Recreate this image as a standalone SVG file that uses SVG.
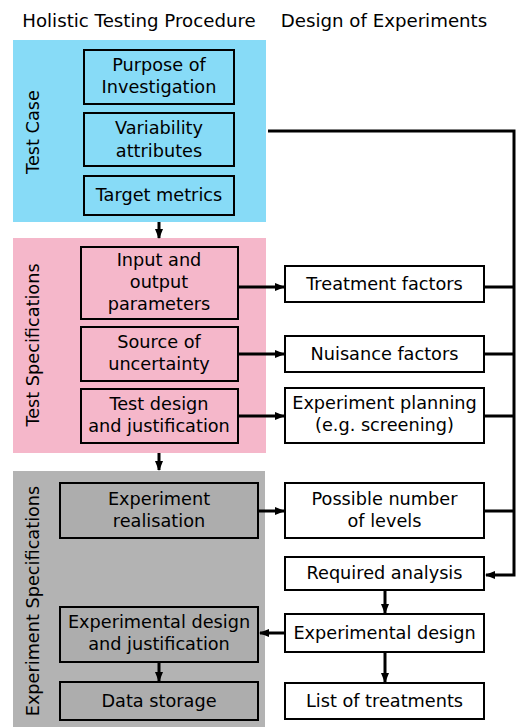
<svg xmlns="http://www.w3.org/2000/svg" width="516" height="727" viewBox="0 0 516 727">
<defs>
<style>
text{font-family:"DejaVu Sans",Verdana,sans-serif;font-size:17.7px;fill:#000;text-anchor:middle}
.box{stroke:#000;stroke-width:2}
.w{fill:#fff}
.b{fill:#87dbf7}
.p{fill:#f5b7ca}
.g{fill:#adadad}
.c{stroke:#000;stroke-width:3;fill:none}
</style>
<marker id="ah" viewBox="0 0 10 10" refX="9" refY="5" markerWidth="10" markerHeight="10" markerUnits="userSpaceOnUse" orient="auto">
<path d="M0,1 L10,5 L0,9 Z" fill="#000"/>
</marker>
</defs>
<rect width="516" height="727" fill="#fff"/>
<text x="139" y="27" style="font-size:18.2px">Holistic Testing Procedure</text>
<text x="384" y="27" style="font-size:18.2px">Design of Experiments</text>

<g id="testcase">
<rect x="13" y="40" width="253" height="182" fill="#87dbf7"/>
<text transform="translate(39,132) rotate(-90)">Test Case</text>
</g>
<g id="testspec">
<rect x="13" y="238" width="253" height="215" fill="#f5b7ca"/>
<text transform="translate(39,345) rotate(-90)">Test Specifications</text>
</g>
<g id="expspec">
<rect x="13" y="471" width="252" height="256" fill="#b3b3b3"/>
<text transform="translate(39,601) rotate(-90)">Experiment Specifications</text>
</g>

<g id="purpose"><rect class="box b" x="84" y="50" width="150" height="54"/><text x="159" y="71">Purpose of</text><text x="159" y="93">Investigation</text></g>
<g id="variability"><rect class="box b" x="84" y="113" width="150" height="53"/><text x="159" y="134">Variability</text><text x="159" y="157">attributes</text></g>
<g id="target"><rect class="box b" x="84" y="176" width="150" height="39"/><text x="159" y="201">Target metrics</text></g>

<g id="inout"><rect class="box p" x="81" y="247" width="157" height="72"/><text x="159" y="266">Input and</text><text x="159" y="288">output</text><text x="159" y="310">parameters</text></g>
<g id="source"><rect class="box p" x="81" y="327" width="157" height="54"/><text x="159" y="348">Source of</text><text x="159" y="370">uncertainty</text></g>
<g id="testdesign"><rect class="box p" x="81" y="389" width="157" height="54"/><text x="159" y="410">Test design</text><text x="159" y="432">and justification</text></g>

<g id="realisation"><rect class="box g" x="60" y="483" width="198" height="55"/><text x="159" y="505">Experiment</text><text x="159" y="527">realisation</text></g>
<g id="expdesignjust"><rect class="box g" x="60" y="607" width="198" height="55"/><text x="159" y="628">Experimental design</text><text x="159" y="650">and justification</text></g>
<g id="storage"><rect class="box g" x="60" y="682" width="198" height="38"/><text x="159" y="707">Data storage</text></g>

<g id="treatment"><rect class="box w" x="285" y="266" width="199" height="36"/><text x="384.5" y="290">Treatment factors</text></g>
<g id="nuisance"><rect class="box w" x="285" y="336" width="199" height="36"/><text x="384.5" y="360">Nuisance factors</text></g>
<g id="planning"><rect class="box w" x="285" y="388" width="199" height="55"/><text x="384.5" y="409">Experiment planning</text><text x="384.5" y="431">(e.g. screening)</text></g>
<g id="levels"><rect class="box w" x="285" y="483" width="199" height="55"/><text x="384.5" y="505">Possible number</text><text x="384.5" y="527">of levels</text></g>
<g id="analysis"><rect class="box w" x="285" y="557" width="199" height="33"/><text x="384.5" y="579">Required analysis</text></g>
<g id="expdesign"><rect class="box w" x="285" y="614" width="199" height="38"/><text x="384.5" y="639">Experimental design</text></g>
<g id="list"><rect class="box w" x="285" y="683" width="199" height="36"/><text x="384.5" y="707">List of treatments</text></g>

<g id="connectors">
<path class="c" d="M268,131 H514 V575 H486" marker-end="url(#ah)"/>
<path class="c" d="M485,287 H514 M485,354 H514 M485,416 H514 M485,511 H514"/>
<path class="c" d="M159,222 V238" marker-end="url(#ah)"/>
<path class="c" d="M159,453 V470" marker-end="url(#ah)"/>
<path class="c" d="M239,287 H284" marker-end="url(#ah)"/>
<path class="c" d="M239,354 H284" marker-end="url(#ah)"/>
<path class="c" d="M239,416 H284" marker-end="url(#ah)"/>
<path class="c" d="M259,511 H284" marker-end="url(#ah)"/>
<path class="c" d="M385,591 V613" marker-end="url(#ah)"/>
<path class="c" d="M385,653 V682" marker-end="url(#ah)"/>
<path class="c" d="M284,633 H260" marker-end="url(#ah)"/>
<path class="c" d="M159,663 V681" marker-end="url(#ah)"/>
</g>
</svg>
